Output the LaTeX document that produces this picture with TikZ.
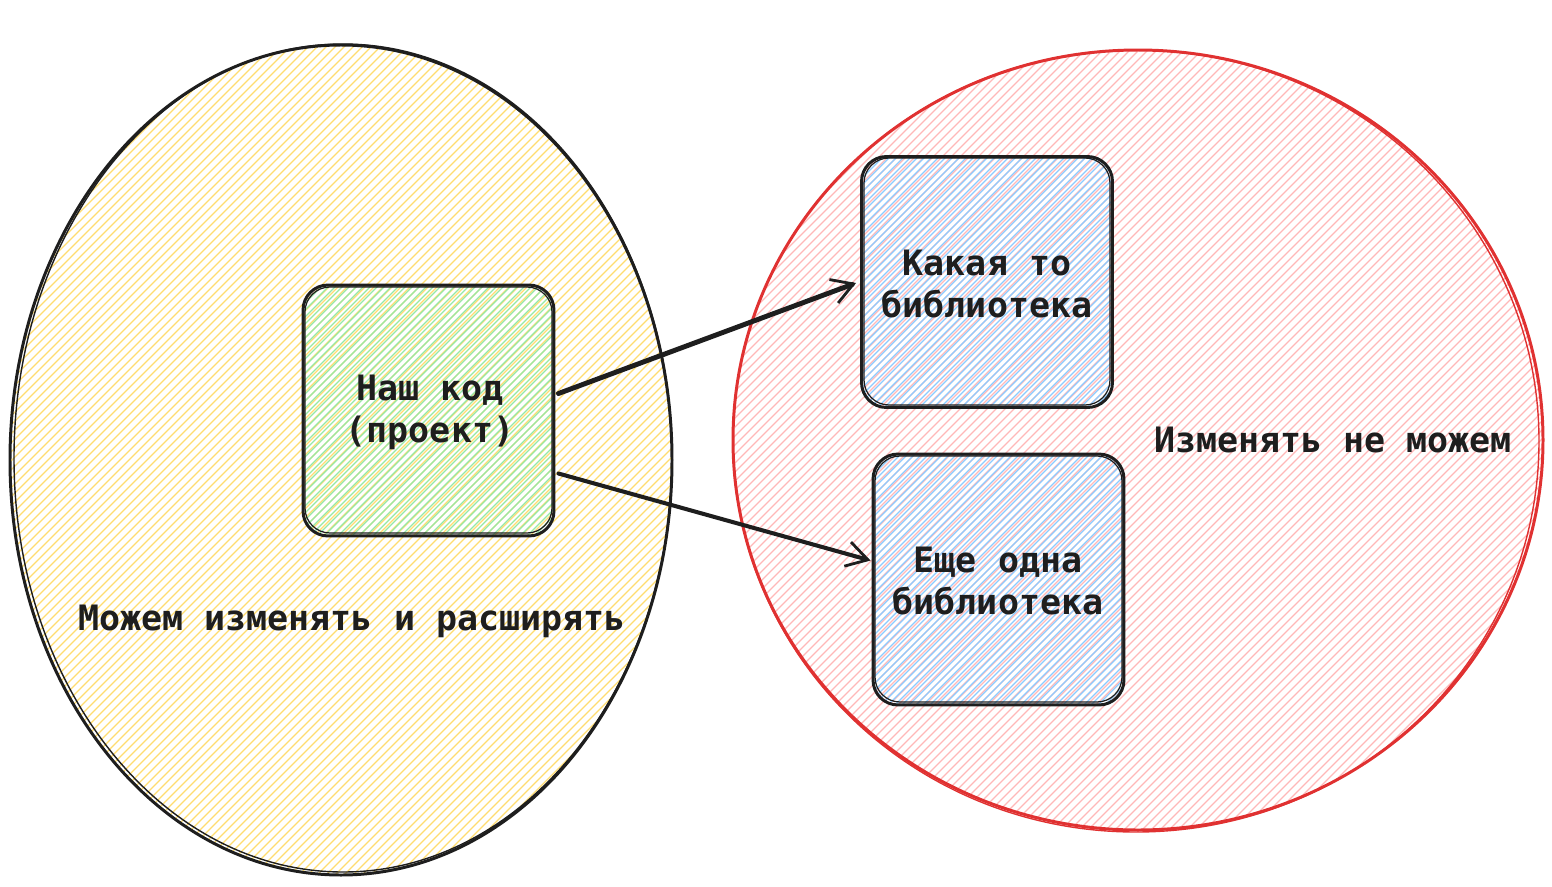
\documentclass[tikz,border=0pt]{standalone}
\usepackage{fontspec}
\setmonofont{DejaVu Sans Mono}
\usetikzlibrary{arrows.meta,calc}
\definecolor{ink}{HTML}{1E1E1E}
\definecolor{redline}{HTML}{E03131}
\definecolor{yhatch}{HTML}{FFDC70}
\definecolor{rhatch}{HTML}{FFB8B8}
\definecolor{ghatch}{HTML}{96E8A4}
\definecolor{bhatch}{HTML}{8CCBFF}
\tikzset{
  hatchline/.style={line width=0.7pt},
  box/.style={draw=ink, line width=1.7pt, rounded corners=0.5cm, minimum width=5.02cm, minimum height=5.02cm, align=center, inner sep=0pt},
  lbl/.style={font=\ttfamily\bfseries\fontsize{19.9}{24}\selectfont, text=ink, align=center},
  arr/.style={draw=ink, -{Straight Barb[length=0.42cm,width=0.5cm,line width=1.6pt]}, line cap=round},
}
\begin{document}
\begin{tikzpicture}[x=0.02cm,y=-0.02cm]
\useasboundingbox (0,0) rectangle (1552,886);
% yellow ellipse hatch
\begin{scope}
  \clip (341,460) ellipse [x radius=331, y radius=415];
  \foreach \i in {-840,-831,...,680} \draw[hatchline,yhatch] (\i,880) -- ++(840,-840);
\end{scope}
% red circle hatch
\begin{scope}
  \clip (1138,440) ellipse [x radius=405, y radius=390];
  \foreach \i in {-60,-51,...,1550} \draw[hatchline,rhatch] (\i,835) -- ++(790,-790);
\end{scope}
\draw[ink, line width=1.7pt] (341,460) ellipse [x radius=331, y radius=415];
\draw[ink, line width=0.8pt] (343,458) ellipse [x radius=329, y radius=414];
\draw[redline, line width=1.7pt] (1138,440) ellipse [x radius=405, y radius=390];
\draw[redline, line width=0.8pt] (1136,441) ellipse [x radius=403, y radius=391];
% box hatches
\begin{scope}
  \clip[rounded corners=0.5cm] (303,285) rectangle (554,536);
  \foreach \i in {40,47,...,560} \draw[hatchline,ghatch] (\i,540) -- ++(260,-260);
\end{scope}
\begin{scope}
  \clip[rounded corners=0.5cm] (862,156) rectangle (1112,408);
  \foreach \i in {600,607,...,1120} \draw[hatchline,bhatch] (\i,412) -- ++(260,-260);
\end{scope}
\begin{scope}
  \clip[rounded corners=0.5cm] (873,454) rectangle (1124,705);
  \foreach \i in {610,617,...,1130} \draw[hatchline,bhatch] (\i,710) -- ++(260,-260);
\end{scope}
% boxes
\node[box] (code) at (428.5,410.5) {};
\node[box] (lib1) at (987,282) {};
\node[box] (lib2) at (998.5,579.5) {};
\draw[ink, line width=0.7pt, rounded corners=0.5cm] (305,287) rectangle (552,533);
\draw[ink, line width=0.7pt, rounded corners=0.5cm] (864,158) rectangle (1110,405);
\draw[ink, line width=0.7pt, rounded corners=0.5cm] (875,456) rectangle (1122,702);
% texts
\node[lbl] (t1) at (430,412) {Наш код\\(проект)};
\node[lbl] (t2) at (987,284) {Какая то\\библиотека};
\node[lbl] (t3) at (998,581) {Еще одна\\библиотека};
\node[lbl] (t4) at (1333,440) {Изменять не можем};
\node[lbl] (t5) at (352,621) {Можем изменять и расширять};
% arrows
\draw[arr, line width=2.8pt] ($(code.east)+(3,-17)$) -- ($(lib1.west)+(-4,1)$);
\draw[arr, line width=2.3pt] ($(code.east)+(3,63)$) -- ($(lib2.west)+(-1,-19)$);
\end{tikzpicture}
\end{document}
